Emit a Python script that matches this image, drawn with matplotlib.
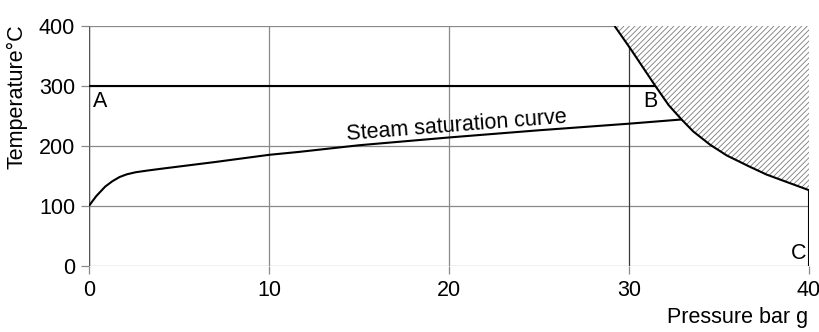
import numpy as np
import matplotlib
matplotlib.use("Agg")
import matplotlib.pyplot as plt

plt.rcParams['font.family'] = ['Liberation Sans', 'DejaVu Sans']
plt.rcParams['hatch.linewidth'] = 0.6

# Steam saturation curve (pressure bar g, temperature °C)
sat_p = [0, 0.4, 0.9, 1.3, 1.7, 2.1, 2.6, 3.3, 4.2, 7, 10, 11.7, 15, 20, 25, 30, 32.92]
sat_t = [100, 116, 132, 141, 148, 152.5, 156, 159, 162.5, 173, 185, 190, 201, 214, 226, 237, 244]

# Limit of the permitted operating range (hatched region above it)
lim_p = [29.2, 30.06, 31.44, 32.2, 32.92, 33.57, 34.5, 35.43, 36.72, 37.65, 40]
lim_t = [400, 363, 301, 268, 244, 224, 202, 184, 165, 152, 126]

# Constant-temperature line A-B
ab_temp = 300

x_ticks = [0, 10, 20, 30, 40]
y_ticks = [0, 100, 200, 300, 400]

fs = 15.5

fig = plt.figure(figsize=(8.2, 3.32), dpi=100)
ax = fig.add_axes([89 / 820, 1 - 265.7 / 332, 720 / 820, 239.7 / 332])
ax.set_xlim(0, 40)
ax.set_ylim(0, 400)

for s in ax.spines.values():
    s.set_visible(False)

grid_c = '#8a8a8a'
for yv in y_ticks:
    ax.axhline(yv, color=grid_c, lw=0.9, zorder=1)
for xv in x_ticks:
    col = '#3a3a3a' if xv == 30 else grid_c
    ax.axvline(xv, color=col, lw=0.9, zorder=1)
ax.axvline(0, color='#555555', lw=1.0, zorder=1)

ax.set_xticks(x_ticks)
ax.set_yticks(y_ticks)
ax.tick_params(axis='both', length=6, width=0.9, color=grid_c,
               labelsize=fs, pad=4)

line_kw = dict(color='black', lw=1.5, zorder=4,
               solid_joinstyle='round', solid_capstyle='butt')

# hatched region beyond the limit curve
ax.fill_between(lim_p, lim_t, 400, facecolor='white', edgecolor='#7a7a7a',
                hatch='//////', linewidth=0, zorder=2)
ax.plot(lim_p, lim_t, **line_kw)

# line A-B at constant temperature, ending at the limit curve
b_p = np.interp(ab_temp, lim_t[::-1], lim_p[::-1])
ax.plot([0, b_p], [ab_temp, ab_temp], **line_kw)

# saturation curve
ax.plot(sat_p, sat_t, **line_kw)

# line down to C at maximum pressure
ax.plot([lim_p[-1], lim_p[-1]], [0, lim_t[-1]], **line_kw)

ax.text(0.2, 292, 'A', fontsize=fs, ha='left', va='top', zorder=5)
ax.text(30.8, 292, 'B', fontsize=fs, ha='left', va='top', zorder=5)
ax.text(39.85, 3, 'C', fontsize=fs, ha='right', va='bottom', zorder=5)
ax.text(20.4, 233, 'Steam saturation curve', fontsize=fs, ha='center',
        va='center', rotation=4.5, zorder=5)

fig.text(17 / 820, 1 - 97 / 332, 'Temperature°C', rotation=90, fontsize=fs,
         ha='center', va='center')
fig.text(808 / 820, 1 - 317 / 332, 'Pressure bar g', fontsize=fs,
         ha='right', va='center')

fig.savefig('out.png', dpi=100)
